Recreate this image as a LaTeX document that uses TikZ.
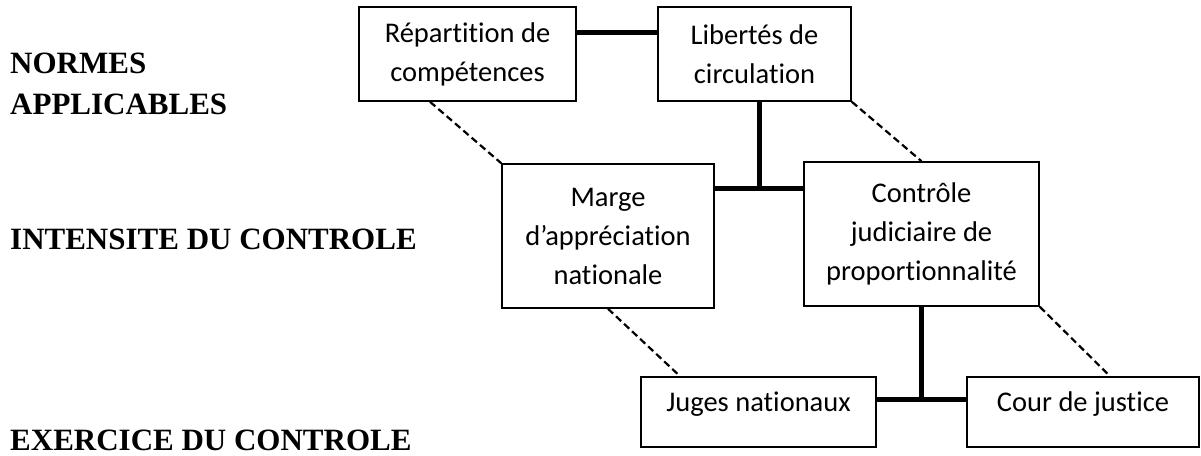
\documentclass[tikz,border=0pt]{standalone}
\usepackage{fontspec}
\usepackage{tikz}
\newfontfamily\blocfont[Ligatures=NoCommon]{Carlito}
\newfontfamily\niveaufont{Liberation Serif}

\begin{document}
\begin{tikzpicture}[
  x=1pt, y=-1pt,
  bloc/.style={draw, line width=1.6pt, inner sep=0pt, align=center,
    font=\blocfont\fontsize{28.5}{39}\selectfont},
  niveau/.style={inner sep=0pt, align=left,
    font=\niveaufont\bfseries\fontsize{31}{41}\selectfont},
  lien/.style={line width=5pt},
  renvoi/.style={line width=2.2pt, dash pattern=on 7pt off 4pt}
]
  \useasboundingbox (0,0) rectangle (1201,455);
  % niveaux
  \node[niveau, anchor=north west] (normes) at (10,53) {NORMES\\APPLICABLES};
  \node[niveau, anchor=base west] (intensite) at (10,249) {INTENSITE DU CONTROLE};
  \node[niveau, anchor=base west] (exercice) at (10,450) {EXERCICE DU CONTROLE};
  % blocs
  \node[bloc, minimum width=217pt, minimum height=94pt] (rep) at (467.5,54)
    {Répartition de\\compétences};
  \node[bloc, minimum width=193pt, minimum height=94pt] (lib) at (754.5,54)
    {Libertés de\\circulation};
  \node[bloc, minimum width=212pt, minimum height=144pt] (marge) at (608,236)
    {Marge\\d’appréciation\\nationale};
  \node[bloc, minimum width=235pt, minimum height=144pt] (ctrl) at (921.5,234)
    {Contrôle\\judiciaire de\\proportionnalité};
  \node[bloc, minimum width=235pt, minimum height=70pt] (juges) at (758.5,412)
    {Juges nationaux\rule[-20pt]{0pt}{20pt}};
  \node[bloc, minimum width=232pt, minimum height=70pt] (cour) at (1083,412)
    {Cour de justice\rule[-20pt]{0pt}{20pt}};
  % liens
  \coordinate (j0) at (617,32);
  \coordinate (j1) at (759,188);
  \coordinate (j2) at (921,399);
  \draw[lien] (rep.east |- j0) -- (lib.west |- j0);
  \draw[lien] (lib.south -| j1) -- (j1);
  \draw[lien] (marge.east |- j1) -- (ctrl.west |- j1);
  \draw[lien] (ctrl.south -| j2) -- (j2);
  \draw[lien] (juges.east |- j2) -- (cour.west |- j2);
  % renvois
  \draw[renvoi] ([xshift=-37.5pt]rep.south) -- (marge.north west);
  \draw[renvoi] (lib.south east) -- (ctrl.north);
  \draw[renvoi] (marge.south) -- ([xshift=-78.5pt]juges.north);
  \draw[renvoi] (ctrl.south east) -- ([xshift=27pt]cour.north);
\end{tikzpicture}
\end{document}
